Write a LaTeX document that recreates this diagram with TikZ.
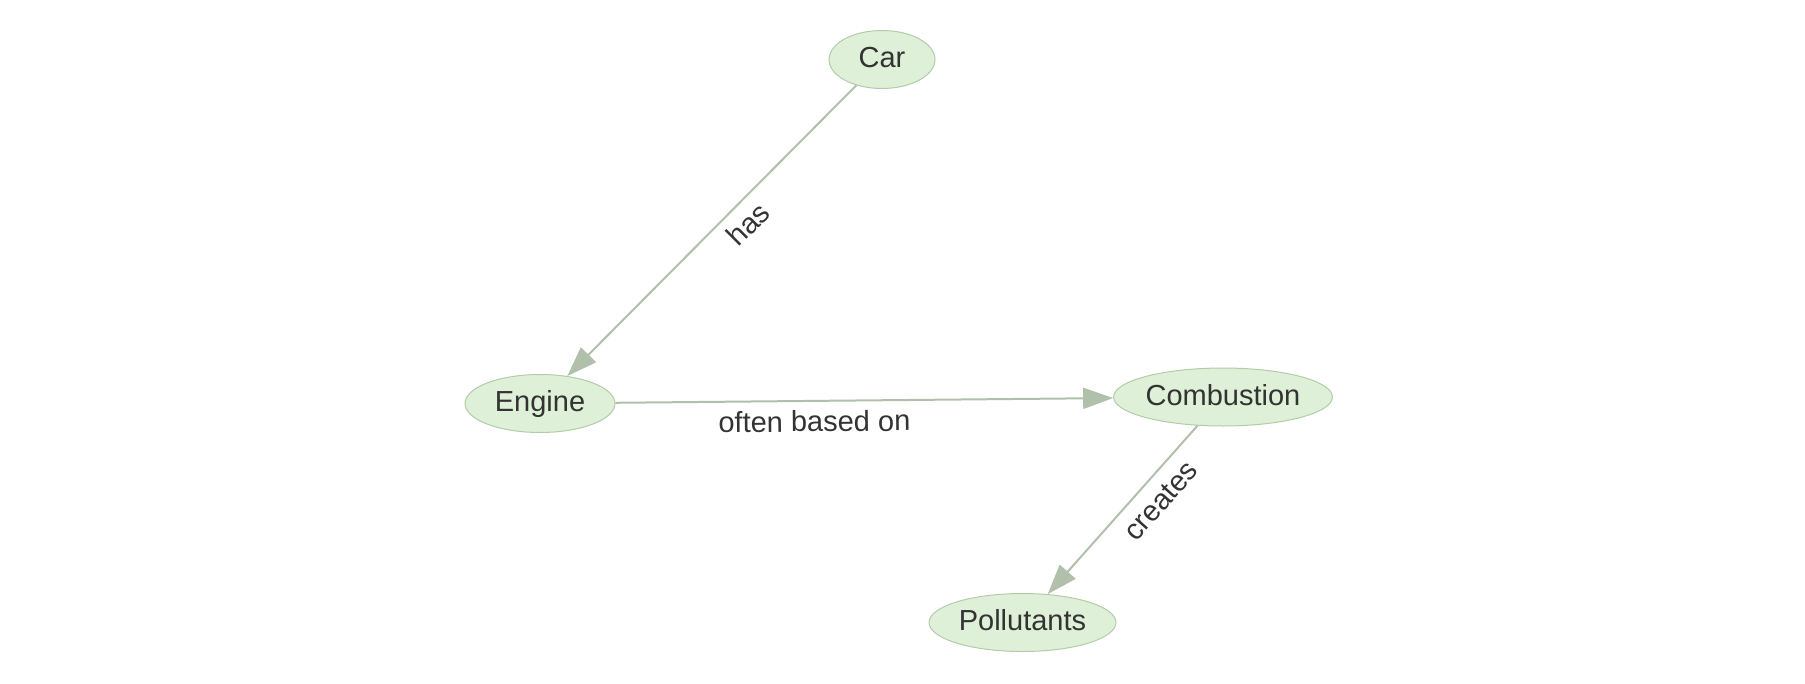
\documentclass[tikz,border=0pt]{standalone}
\usepackage{fontspec}
\setmainfont{Liberation Sans}
\usetikzlibrary{shapes.geometric,arrows.meta}
\definecolor{nodefill}{RGB}{223,240,216}
\definecolor{nodeborder}{RGB}{178,204,168}
\definecolor{edgecol}{RGB}{176,192,170}
\definecolor{txt}{RGB}{51,51,51}
\tikzset{
  concept/.style={ellipse, draw=nodeborder, fill=nodefill, line width=1pt, inner sep=0pt,
    minimum height=58pt, text=txt, font=\fontsize{29}{29}\selectfont,
    text height=22.6pt, text depth=5.8pt},
  link/.style={draw=edgecol, line width=2pt, -{Triangle[length=30pt,width=21pt]}},
  lbl/.style={text=txt, font=\fontsize{29}{29}\selectfont, inner sep=0pt}
}
\begin{document}
\begin{tikzpicture}[x=1pt,y=-1pt]
\useasboundingbox (0,0) rectangle (1805,683);
\node[concept, minimum width=106pt] (car) at (882,59.5) {Car};
\node[concept, minimum width=150pt] (engine) at (540,403.5) {Engine};
\node[concept, minimum width=216pt] (comb) at (1223,397) {Combustion};
\node[concept, minimum width=187pt] (poll) at (1022.5,622.5) {Pollutants};
\draw[link] (car) -- (engine);
\draw[link] (engine) -- (comb);
\draw[link] (comb) -- (poll);
\node[lbl, rotate=45] (lhas) at (748,224) {has};
\node[lbl, anchor=base, rotate=0.6] (lbased) at (814.5,431.7) {often based on};
\node[lbl, rotate=48.4] (lcreates) at (1161,501) {creates};
\end{tikzpicture}
\end{document}
